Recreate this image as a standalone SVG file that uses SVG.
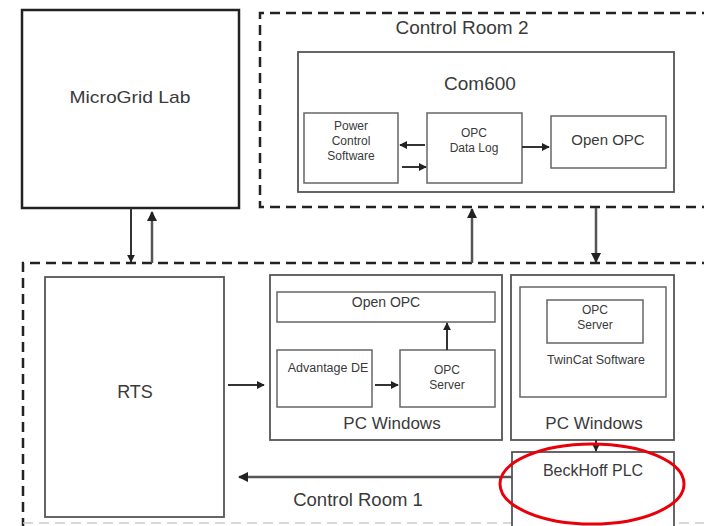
<svg xmlns="http://www.w3.org/2000/svg" width="704" height="526" viewBox="0 0 704 526">
<style>
text{font-family:"Liberation Sans",Arial,sans-serif;fill:#3a3a3a;text-anchor:middle}
.box{fill:#fff;stroke:#555;stroke-width:1.8}
.ibox{fill:#fff;stroke:#666;stroke-width:1.5}
.zone{fill:none;stroke:#222;stroke-width:2.5;stroke-dasharray:10 6}
.c{stroke:#333;stroke-width:2;fill:none}
.cg{stroke:#555;stroke-width:2.5;fill:none}
</style>
<defs>
<marker id="ah" viewBox="0 0 10 10" refX="9" refY="5" markerWidth="4" markerHeight="4" orient="auto-start-reverse">
<path d="M0,0 L10,5 L0,10 z" fill="#222"/>
</marker>
</defs>
<rect width="704" height="526" fill="#fff"/>
<g id="zones">
<path class="zone" d="M712,13 H260 V207 H712"/>
<path class="zone" d="M712,263 H23 V526"/>
<path d="M23,523 H704" fill="none" stroke="#ccc" stroke-width="1.5" stroke-dasharray="10 6"/>
</g>
<g id="microgrid">
<rect x="22" y="10" width="217" height="198" fill="#fff" stroke="#222" stroke-width="2.5"/>
<text x="130" y="103" font-size="17" textLength="121" lengthAdjust="spacingAndGlyphs">MicroGrid Lab</text>
</g>
<g id="cr2-label"><text x="462" y="34" font-size="19">Control Room 2</text></g>
<g id="com600">
<rect class="box" x="298" y="52" width="376" height="140"/>
<text x="480" y="90" font-size="19">Com600</text>
</g>
<g id="pcs">
<rect class="ibox" x="304" y="113" width="94" height="70"/>
<text x="351" y="130" font-size="12">Power</text>
<text x="351" y="145" font-size="12">Control</text>
<text x="351" y="160" font-size="12">Software</text>
</g>
<g id="datalog">
<rect class="ibox" x="427" y="113" width="95" height="70"/>
<text x="474" y="137" font-size="12">OPC</text>
<text x="474" y="152" font-size="12">Data Log</text>
</g>
<g id="openopc2">
<rect class="ibox" x="551" y="116" width="115" height="52"/>
<text x="608" y="145" font-size="15">Open OPC</text>
</g>
<g id="rts">
<rect class="box" x="45" y="277" width="179" height="240"/>
<text x="135" y="398" font-size="18">RTS</text>
</g>
<g id="pcwin1">
<rect class="box" x="270" y="275" width="232" height="165"/>
<text x="392" y="429" font-size="17">PC Windows</text>
</g>
<g id="openopc1">
<rect class="ibox" x="277" y="292" width="218" height="30"/>
<text x="386" y="307" font-size="14">Open OPC</text>
</g>
<g id="advantage">
<rect class="ibox" x="277" y="350" width="95" height="57"/>
<text x="328" y="372" font-size="12.5">Advantage DE</text>
</g>
<g id="opcserver1">
<rect class="ibox" x="400" y="350" width="95" height="57"/>
<text x="447" y="374" font-size="12">OPC</text>
<text x="447" y="389" font-size="12">Server</text>
</g>
<g id="pcwin2">
<rect class="box" x="511" y="275" width="163" height="165"/>
<text x="594" y="429" font-size="17">PC Windows</text>
</g>
<g id="twincat">
<rect class="ibox" x="520" y="287" width="146" height="110"/>
<text x="596" y="364" font-size="12.5">TwinCat Software</text>
</g>
<g id="opcserver2">
<rect class="ibox" x="547" y="300" width="96" height="43"/>
<text x="595" y="314" font-size="12">OPC</text>
<text x="595" y="329" font-size="12">Server</text>
</g>
<g id="beckhoff">
<rect class="box" x="512" y="452" width="162" height="80"/>
<text x="593" y="476" font-size="16">BeckHoff PLC</text>
</g>
<g id="cr1-label"><text x="358" y="506" font-size="18.5">Control Room 1</text></g>
<g id="connectors">
<line class="c" x1="425" y1="145" x2="400" y2="145" marker-end="url(#ah)"/>
<line class="c" x1="402" y1="167" x2="426" y2="167" marker-end="url(#ah)"/>
<line class="c" x1="522" y1="147" x2="549" y2="147" marker-end="url(#ah)"/>
<line class="c" x1="131" y1="208" x2="131" y2="262" marker-end="url(#ah)"/>
<line class="cg" x1="152" y1="263" x2="152" y2="212" marker-end="url(#ah)"/>
<line class="cg" x1="472" y1="263" x2="472" y2="209" marker-end="url(#ah)"/>
<line class="cg" x1="596" y1="208" x2="596" y2="262" marker-end="url(#ah)"/>
<line class="c" x1="228" y1="385" x2="264" y2="385" marker-end="url(#ah)"/>
<line class="c" x1="375" y1="385" x2="398" y2="385" marker-end="url(#ah)"/>
<line class="c" x1="447" y1="350" x2="447" y2="323" marker-end="url(#ah)"/>
<line class="c" x1="596" y1="440" x2="596" y2="451" marker-end="url(#ah)"/>
<line class="cg" x1="512" y1="477" x2="239" y2="477" marker-end="url(#ah)"/>
</g>
<g id="highlight">
<ellipse cx="592" cy="484" rx="92" ry="40" fill="none" stroke="#e8000b" stroke-width="3"/>
</g>
</svg>
